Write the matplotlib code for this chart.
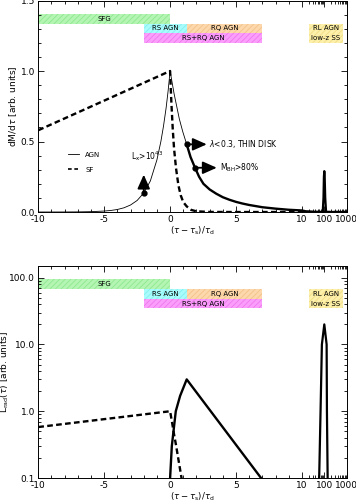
import numpy as np
import matplotlib
matplotlib.use("Agg")
import matplotlib.pyplot as plt
from matplotlib.ticker import FixedLocator, FixedFormatter
from matplotlib.transforms import blended_transform_factory

# ---- data ----
# star formation (dashed), same in both panels
sf_x = [-10, 0, 0.05, 0.1, 0.15, 0.2, 0.3, 0.45, 0.63, 0.8, 1.0, 1.26, 1.6, 2.0, 3.0, 5.0, 10, 100, 1000]
sf_y = [0.58, 1.0, 0.88, 0.77, 0.68, 0.59, 0.45, 0.31, 0.19, 0.12, 0.07, 0.04, 0.015, 0.005, 0.0005,
        0.0, 0.0, 0.0, 0.0]

# AGN accretion rate, top panel (thin part before the dot, thick after)
agn_thin_x = [-10, -9, -8, -7, -6, -5, -4.5, -4, -3.5, -3, -2.5, -2, -1.5, -1, -0.7, -0.5, -0.3,
              -0.15, 0, 0.15, 0.3, 0.5, 0.7, 0.96, 1.26]
agn_thin_y = [0.00005, 0.0001, 0.0003, 0.0009, 0.0025, 0.007, 0.011, 0.018, 0.03, 0.05, 0.082,
              0.135, 0.22, 0.37, 0.5, 0.61, 0.74, 0.86, 1.0, 0.92, 0.84, 0.75, 0.66, 0.57, 0.48]
agn_thick_x = [1.26, 1.55, 1.89, 2.2, 2.53, 3, 3.5, 4, 4.5, 5, 5.5, 6, 7, 8, 9, 10, 15, 30, 60, 1000]
agn_thick_y = [0.48, 0.39, 0.314, 0.25, 0.2, 0.16, 0.13, 0.105, 0.087, 0.072, 0.06, 0.05, 0.034,
               0.024, 0.016, 0.011, 0.005, 0.002, 0.0, 0.0]

# late radio-loud spike
spike_x = [85, 92, 96, 100, 104, 110, 120]
spike_y = [0.0, 0.1, 0.25, 0.29, 0.25, 0.1, 0.0]

# bottom panel: AGN luminosity
lum_x = [0, 0.13, 0.43, 0.76, 1.26, 6.9]
lum_y = [0.1, 0.3, 1.0, 1.7, 3.0, 0.1]
lum_spike_x = [59, 68, 78, 100, 127, 131, 141]
lum_spike_y = [0.1, 1.0, 10.0, 20.0, 10.0, 1.0, 0.1]

# marked points with arrows
dot_x = [-2, 1.26, 1.89]
dot_y = [0.135, 0.48, 0.314]

# phase bars
bar_labels = ['SFG', 'RS AGN', 'RQ AGN', 'RS+RQ AGN', 'RL AGN\nlow-z SS']
bar_x0 = [-10, -2, 1.26, -2, 21]
bar_x1 = [0, 1.26, 7, 7, 660]
bar_row = [0, 1, 1, 2, (1, 2)]
bar_face = ['#b4f5b4', '#a8fcfc', '#fdd8ac', '#fb9efb', '#fdf0aa']
bar_hatch = ['#8fe88f', '#86eeee', '#f2c28a', '#ee78ee', '#f0dc86']
row_edges = [(0.891, 0.937), (0.846, 0.891), (0.800, 0.846)]

plt.rcParams['font.family'] = 'DejaVu Sans'
plt.rcParams['hatch.linewidth'] = 0.6


def fwd(x):
    x = np.asarray(x, float)
    return np.where(x <= 10, x, 10 + 1.7 * np.log10(np.maximum(x, 10) / 10))


def inv(u):
    u = np.asarray(u, float)
    return np.where(u <= 10, u, 10 * 10 ** ((np.maximum(u, 10) - 10) / 1.7))


x_major = [-10, -5, 0, 5, 10, 100, 1000]
x_minor = list(range(-9, 10)) + [20, 30, 40, 50, 60, 70, 80, 90] + [200, 300, 400, 500, 600, 700, 800, 900]


def style_axes(ax):
    ax.set_xscale('function', functions=(fwd, inv))
    ax.set_xlim(-10, 1000)
    ax.xaxis.set_major_locator(FixedLocator(x_major))
    ax.xaxis.set_major_formatter(FixedFormatter([str(v) for v in x_major]))
    ax.xaxis.set_minor_locator(FixedLocator(x_minor))
    ax.tick_params(which='both', direction='in', top=True, right=True, labelsize=6.5, pad=2.5)
    ax.tick_params(which='major', length=4.3, width=0.6)
    ax.tick_params(which='minor', length=2.2, width=0.6)
    for s in ax.spines.values():
        s.set_linewidth(0.7)
    ax.set_xlabel(r'$(\tau-\tau_{\rm s})/\tau_{\rm d}$', fontsize=6.2)


def draw_bars(ax):
    trans = blended_transform_factory(ax.transData, ax.transAxes)
    for lab, x0, x1, row, fc, hc in zip(bar_labels, bar_x0, bar_x1, bar_row, bar_face, bar_hatch):
        if isinstance(row, tuple):
            y0, y1 = row_edges[row[1]][0], row_edges[row[0]][1]
        else:
            y0, y1 = row_edges[row]
        ax.fill_between([x0, x1], [y0, y0], [y1, y1], transform=trans,
                        facecolor=fc, edgecolor=hc, hatch='//////', linewidth=0, zorder=1)
        xm = inv((fwd(x0) + fwd(x1)) / 2)
        ax.text(float(xm), (y0 + y1) / 2, lab, transform=trans, ha='center', va='center',
                fontsize=5, linespacing=1.8, zorder=2)


fig = plt.figure(figsize=(3.56, 5.01), dpi=100)

# ---- top panel ----
ax1 = fig.add_axes([0.1076, 0.5768, 0.8663, 0.4222])
style_axes(ax1)
ax1.set_ylim(0, 1.5)
ax1.yaxis.set_major_locator(FixedLocator([0, 0.5, 1.0, 1.5]))
ax1.yaxis.set_major_formatter(FixedFormatter(['0.0', '0.5', '1.0', '1.5']))
ax1.yaxis.set_minor_locator(FixedLocator(np.arange(0, 1.51, 0.1)))
ax1.set_ylabel(r'dM/d$\tau$ [arb. units]', fontsize=6.5)
ax1.yaxis.set_label_coords(-0.064, 0.5)
ax1.xaxis.set_label_coords(0.5, -0.06)
draw_bars(ax1)

ax1.plot(sf_x, sf_y, color='k', lw=1.7, dashes=(2.4, 1.4), zorder=3)
ax1.plot(agn_thin_x, agn_thin_y, color='k', lw=0.6, zorder=3)
ax1.plot(agn_thick_x, agn_thick_y, color='k', lw=1.7, zorder=3)
ax1.plot(spike_x, spike_y, color='k', lw=1.6, zorder=3)
ax1.plot(dot_x, dot_y, 'o', color='k', ms=3.5, zorder=4)

# legend
h_agn, = ax1.plot([], [], color='k', lw=0.6, label='AGN')
h_sf, = ax1.plot([], [], color='k', lw=1.2, dashes=(2.2, 1.6), label='SF')
ax1.legend(handles=[h_agn, h_sf], loc='upper left', bbox_to_anchor=(0.075, 0.315),
           frameon=False, fontsize=5, handlelength=1.7, labelspacing=1.3, handletextpad=0.8)

arrow_kw = dict(arrowstyle='-|>,head_length=0.85,head_width=0.38', color='k', lw=1.3,
                shrinkA=0, shrinkB=0, mutation_scale=10)
ax1.annotate('', xy=(-2, 0.265), xytext=(dot_x[0], dot_y[0]), arrowprops=arrow_kw)
ax1.annotate('', xy=(2.78, 0.48), xytext=(dot_x[1], dot_y[1]), arrowprops=arrow_kw)
ax1.annotate('', xy=(3.54, 0.314), xytext=(dot_x[2], dot_y[2]), arrowprops=arrow_kw)
ax1.text(-2.98, 0.40, r'L$_{\rm x}$>10$^{43}$', fontsize=5.5, ha='left', va='center')
ax1.text(2.98, 0.48, r'$\lambda$<0.3, THIN DISK', fontsize=5.5, ha='left', va='center')
ax1.text(3.79, 0.317, r'M$_{\rm BH}$>80%', fontsize=5.5, ha='left', va='center')

# ---- bottom panel ----
ax2 = fig.add_axes([0.1076, 0.0459, 0.8663, 0.4232])
style_axes(ax2)
ax2.set_yscale('log')
ax2.set_ylim(0.1, 150)
ax2.yaxis.set_major_locator(FixedLocator([0.1, 1, 10, 100]))
ax2.yaxis.set_major_formatter(FixedFormatter(['0.1', '1.0', '10.0', '100.0']))
ax2.yaxis.set_minor_locator(FixedLocator([m * d for d in [0.1, 1, 10, 100] for m in range(2, 10)]))
ax2.yaxis.set_minor_formatter(FixedFormatter([]))
ax2.set_ylabel(r'L$_{\rm rad}$($\tau$) [arb. units]', fontsize=6.5)
ax2.yaxis.set_label_coords(-0.087, 0.5)
ax2.xaxis.set_label_coords(0.5, -0.058)
draw_bars(ax2)

ax2.plot(sf_x, sf_y, color='k', lw=1.7, dashes=(2.4, 1.4), zorder=3)
ax2.plot(lum_x, lum_y, color='k', lw=1.7, zorder=3)
ax2.plot(lum_spike_x, lum_spike_y, color='k', lw=1.6, zorder=3)

fig.savefig('out.png', dpi=100)
